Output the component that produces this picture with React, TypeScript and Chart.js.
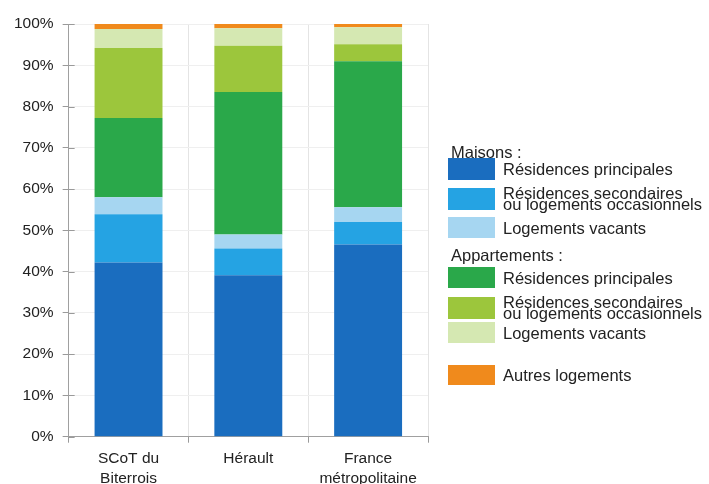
import React, { useEffect, useRef } from "react";
import { Chart, registerables } from "chart.js";

Chart.register(...registerables);

const categories: (string | string[])[] = [["SCoT du", "Biterrois"], "Hérault", ["France", "métropolitaine"]];

const maisonsPrincipales = [42.2, 39.1, 46.6];
const maisonsSecondaires = [11.7, 6.5, 5.4];
const maisonsVacants = [4.1, 3.4, 3.6];
const appartPrincipales = [19.2, 34.5, 35.4];
const appartSecondaires = [17.0, 11.2, 4.1];
const appartVacants = [4.6, 4.3, 4.1];
const autresLogements = [1.2, 1.0, 0.8];

const yTicks = [0, 10, 20, 30, 40, 50, 60, 70, 80, 90, 100];

const FONT = "'Liberation Sans', Arial, sans-serif";

const series = [
  { key: "mrp", group: "Maisons :", label: ["Résidences principales"], data: maisonsPrincipales, color: "#1a6dbf" },
  { key: "mrs", group: "Maisons :", label: ["Résidences secondaires", "ou logements occasionnels"], data: maisonsSecondaires, color: "#25a3e3" },
  { key: "mlv", group: "Maisons :", label: ["Logements vacants"], data: maisonsVacants, color: "#a6d6f1" },
  { key: "arp", group: "Appartements :", label: ["Résidences principales"], data: appartPrincipales, color: "#2aa84a" },
  { key: "ars", group: "Appartements :", label: ["Résidences secondaires", "ou logements occasionnels"], data: appartSecondaires, color: "#9cc63c" },
  { key: "alv", group: "Appartements :", label: ["Logements vacants"], data: appartVacants, color: "#d5e8b2" },
  { key: "aut", group: "", label: ["Autres logements"], data: autresLogements, color: "#f08a1c" },
];

// legend layout (positions only)
const headerPos: Record<string, number> = { "Maisons :": 152, "Appartements :": 255 };
const rowPos: Record<string, [number, number]> = {
  mrp: [158, 22],
  mrs: [188, 22],
  mlv: [217, 21],
  arp: [267, 21],
  ars: [297, 22],
  alv: [322, 21],
  aut: [365, 20],
};

const innerTicks = {
  id: "innerTicks",
  afterDatasetsDraw(chart: any) {
    const y = chart.scales.y;
    const ctx = chart.ctx;
    const left = chart.chartArea.left;
    ctx.save();
    ctx.strokeStyle = "#9a9a9a";
    ctx.lineWidth = 1;
    y.ticks.forEach((t: any) => {
      const py = Math.round(y.getPixelForValue(t.value)) + 0.5;
      ctx.beginPath();
      ctx.moveTo(left, py);
      ctx.lineTo(left + 6, py);
      ctx.stroke();
    });
    ctx.restore();
  },
};

export default function App() {
  const canvasRef = useRef<HTMLCanvasElement | null>(null);

  useEffect(() => {
    if (!canvasRef.current) return;
    const chart = new Chart(canvasRef.current, {
      type: "bar",
      data: {
        labels: categories as any,
        datasets: series.map((s) => ({
          label: s.label.join(" "),
          data: s.data,
          backgroundColor: s.color,
          borderWidth: 0,
          categoryPercentage: 1,
          barPercentage: 0.567,
        })),
      },
      plugins: [innerTicks],
      options: {
        animation: false,
        responsive: false,
        maintainAspectRatio: false,
        layout: { padding: { left: 5, right: 281, top: 24, bottom: 5 } },
        plugins: {
          legend: { display: false },
          tooltip: { enabled: false },
          title: { display: false },
        },
        scales: {
          x: {
            stacked: true,
            grid: {
              offset: true,
              color: "#e4e4e4",
              tickColor: "#9a9a9a",
              tickLength: 6,
              drawTicks: true,
            },
            border: { color: "#a0a0a0", width: 1 },
            ticks: {
              color: "#222",
              font: { family: FONT, size: 15.5, lineHeight: 1.3 },
              padding: 6,
              maxRotation: 0,
              autoSkip: false,
            },
          },
          y: {
            stacked: true,
            min: 0,
            max: 100,
            afterBuildTicks: (axis: any) => {
              axis.ticks = yTicks.map((v) => ({ value: v }));
            },
            grid: {
              color: "#efefef",
              tickColor: "#9a9a9a",
              tickLength: 6,
            },
            border: { color: "#a0a0a0", width: 1 },
            ticks: {
              color: "#222",
              font: { family: FONT, size: 15.5 },
              padding: 9,
              callback: (v: any) => v + "%",
            },
          },
        },
      },
    });
    return () => chart.destroy();
  }, []);

  const headers = Object.keys(headerPos);

  return (
    <div style={{ position: "fixed", left: 0, top: 0, width: 709, height: 484, overflow: "hidden", background: "#fff" }}>
      <div style={{ position: "relative", width: 709, height: 500 }}>
        <canvas ref={canvasRef} width={709} height={500} style={{ position: "absolute", left: 0, top: 0, width: 709, height: 500 }} />
        {headers.map((h) => (
          <div
            key={h}
            style={{
              position: "absolute",
              left: 451,
              top: headerPos[h] - 10,
              height: 20,
              lineHeight: "20px",
              fontFamily: FONT,
              fontSize: 16.5,
              color: "#222",
              whiteSpace: "nowrap",
            }}
          >
            {h}
          </div>
        ))}
        {series.map((s) => {
          const [top, h] = rowPos[s.key];
          return (
            <div key={s.key} style={{ position: "absolute", left: 448, top, height: h, display: "flex", alignItems: "center" }}>
              <div style={{ width: 47, height: h, background: s.color }} />
              <div
                style={{
                  marginLeft: 8,
                  fontFamily: FONT,
                  fontSize: 16.5,
                  color: "#222",
                  lineHeight: s.label.length > 1 ? "10.5px" : "20px",
                  whiteSpace: "nowrap",
                  marginTop: s.label.length > 1 ? -1 : 0,
                }}
              >
                {s.label.map((l, i) => (
                  <div key={i}>{l}</div>
                ))}
              </div>
            </div>
          );
        })}
      </div>
    </div>
  );
}
